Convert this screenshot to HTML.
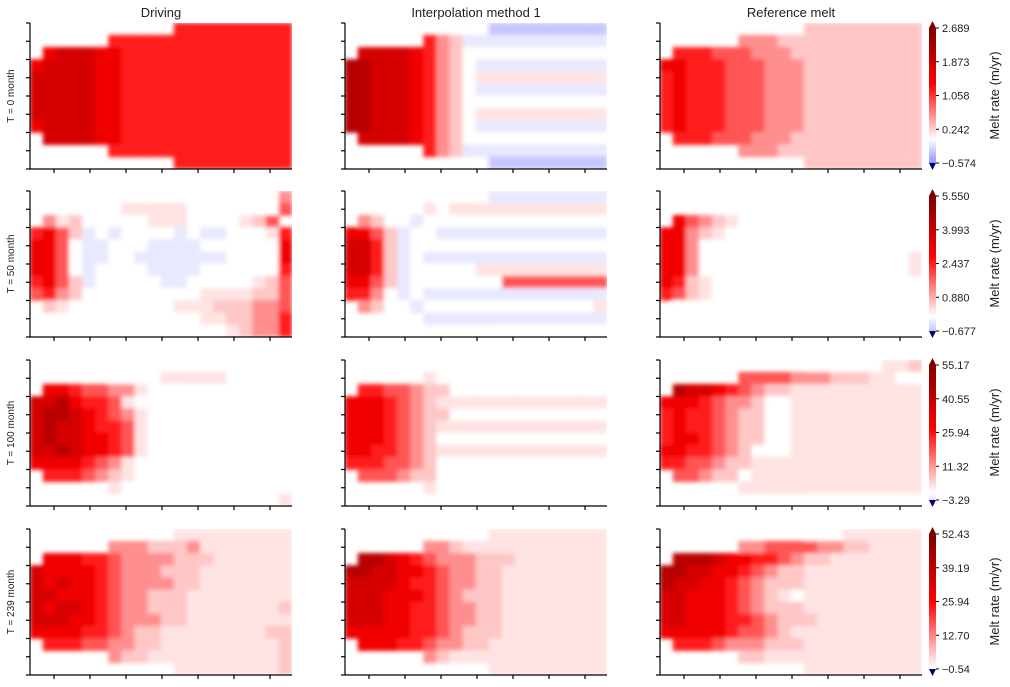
<!DOCTYPE html>
<html><head><meta charset="utf-8">
<style>
body{margin:0;background:#fff;}
svg{display:block;font-family:"Liberation Sans",sans-serif;}
</style></head>
<body>
<svg id="fig" width="1010" height="687" viewBox="0 0 1010 687" xmlns="http://www.w3.org/2000/svg">
<defs>
<filter id="sm" x="-5%" y="-5%" width="110%" height="110%"><feGaussianBlur stdDeviation="2.2"/></filter>
</defs>
</svg>
<script>
// ---- data ----
const colTitles = ["Driving","Interpolation method 1","Reference melt"];
const rowLabels = ["T = 0 month","T = 50 month","T = 100 month","T = 239 month"];
const vmaxs = [2.689, 5.55, 55.17, 52.43];
const vmins = [-0.574, -0.677, -3.29, -0.54];
const cbTicks = [
 ["\u22120.574","0.242","1.058","1.873","2.689"],
 ["\u22120.677","0.880","2.437","3.993","5.550"],
 ["\u22123.29","11.32","25.94","40.55","55.17"],
 ["\u22120.54","12.70","25.94","39.19","52.43"]
];
// cell codes: '.' no data, '0'-'9' = d/9*vmax, 'p' = 0.5/9*vmax, 'w' = -0.4/9*vmax, 'a','b','c' = -1,-2,-3 /9*vmax
const p11=["...........444444444","......44444444444444",".5666554444444444444","56666554444444444444","66666554444444444444","66666554444444444444","66666554444444444444","66666554444444444444","56666554444444444444",".6666554444444444444","......44444444444444","...........444444444"];
const p12=["...........aaaaaaaaa","......421wwwwwwwwwww",".6666542100000000000","7766654210wwwwwwwwww","7766654210pppppppppp","7766654210wwwwwwwwww","77666542100000000000","7766654210pppppppppp","7766654210wwwwwwwwww",".6666542100000000000","......421wwwwwwwwwww","...........aaaaaaaaa"];
const p13=["...........111111111","......22211111111111",".4443332221111111111","55444333222111111111","45444333222111111111","45444333222111111111","45444333222111111111","45444333222111111111","45444333222111111111",".4443332221111111111","......22211111111111","...........111111111"];
const p21=["...........000000002","......0ppppp00000003",".2p100000ppp0000p13","4531w0w0000w0ww000p4","5530ww000wwww0000005","5530ww00wwwwwww00005","5530w0000wwww0000004","4531w00000ww00000p13","3421000000000pppp113",".1p00000000ppp111223","......0000000pp11224","...........0000p1224"];
const p22=["...........wwwwwwwww","......p0pppppppppppp",".2100w00000000000000","5531w00wwwwwwwwwwwww","6641w000000000000000","6641w0wwwwwwwwwwwwww","6641w00000pppppppppp","5531w000000033333333","4420w0wwwwwwwwwwwwww",".2100w0000000000000p","......wwwwwwwwwwwwww","...........000000000"];
const p23=["...........000000000","......00000000000000",".5321p00000000000000","5521p000000000000000","55200000000000000000","5520000000000000000p","5520000000000000000p","541p0000000000000000","431p0000000000000000",".0000000000000000000","......00000000000000","...........000000000"];
const p31=["...........000000000","......0000ppppp00000",".5543322p00000000000","6675443p000000000000","67765432p00000000000","67665443p00000000000","67665543p00000000000","66765543p00000000000","5555432p000000000000",".444321p000000000000","......p0000000000000","...........00000000p"];
const p32=["...........000000000","......p0000000000000",".44332110000000000000","5554321ppppppppppppp","55543211000000000000","5554321ppppppppppppp","55543210000000000000","5544321ppppppppppppp","44433210000000000000",".3332110000000000000","......p0000000000000","...........000000000"];
const p33=["...........000000pp1","......3333222111pp00",".766543211pppppppppp","5554322100pppppppppp","4544321100pppppppppp","4544321100pppppppppp","4554321100pppppppppp","5544321000pppppppppp","4433211ppppppppppppp",".332110ppppppppppppp","......pppppppppppppp","...........000000000"];
const p41=["...........ppppppppp","......2221112ppppppp",".5554432222111pppppp","6555543222111ppppppp","6565543222211ppppppp","665554322111pppppppp","656654322111ppppppp1","666554322211pppppppp","5555443211pppppppp11",".444332211ppppppppp1","......211pppppppppp1","...........pppppppp1"];
const p42=["...........ppppppppp","......221ppppppppppp",".776543222111ppppppp","776655432211pppppppp","666654432211pppppppp","666555432111pppppppp","666554432211pppppppp","666554432211pppppppp","555554432111pppppppp",".5554432211ppppppppp","......21pppppppppppp","...........ppppppppp"];
const p43=["...........000pppppp","......2233332211pppp",".777655443211ppppppp","77665543211ppppppppp","76655432111ppppppppp","665554321p0ppppppppp","66555432111ppppppppp","665554432111pppppppp","5555543321pppppppppp",".4443222111ppppppppp","......11pppppppppppp","...........ppppppppp"];
const panels=[[p11,p12,p13],[p21,p22,p23],[p31,p32,p33],[p41,p42,p43]];

// ---- layout ----
const NS="http://www.w3.org/2000/svg";
const svg=document.getElementById('fig');
const rowTop=[23,191,360,529], PH=146, colLeft=[30,345,660], PW=262;
const NX=20, NY=12;
function mk(tag,attrs,parent){const e=document.createElementNS(NS,tag);for(const k in attrs)e.setAttribute(k,attrs[k]);(parent||svg).appendChild(e);return e;}
function lerp(a,b,t){return a+(b-a)*t;}
function seismic(t){
  t=Math.max(0,Math.min(1,t));
  const st=[[0,0,0,0.3],[0.25,0,0,1],[0.5,1,1,1],[0.75,1,0,0],[1,0.5,0,0]];
  for(let i=0;i<4;i++){if(t<=st[i+1][0]){const f=(t-st[i][0])/(st[i+1][0]-st[i][0]);
    return `rgb(${Math.round(255*lerp(st[i][1],st[i+1][1],f))},${Math.round(255*lerp(st[i][2],st[i+1][2],f))},${Math.round(255*lerp(st[i][3],st[i+1][3],f))})`;}}
  return 'rgb(128,0,0)';
}
function codeVal(c,vmax){
  if(c>='0'&&c<='9')return (+c)/9*vmax;
  if(c==='p')return 0.5/9*vmax;
  if(c==='w')return -0.4/9*vmax;
  return -("abc".indexOf(c)+1)/9*vmax;
}
function colorOf(v,vmax){return seismic(0.5+v/(2*vmax));}
function xScale(ci,i){return colLeft[ci]+i*PW/NX;}
function yScale(ri,j){return rowTop[ri]+j*PH/NY;}

colTitles.forEach((t,ci)=>{
  const e=mk('text',{x:colLeft[ci]+PW/2,y:17,'text-anchor':'middle','font-size':13,fill:'#222'});
  
  
  e.textContent=t;
});

for(let ri=0;ri<4;ri++){
  const vmax=vmaxs[ri];
  const cy=rowTop[ri]+PH/2;
  const rl=mk('text',{x:0,y:0,transform:`translate(14,${cy}) rotate(-90)`,'text-anchor':'middle','font-size':10,fill:'#222'});
  
  
  rl.textContent=rowLabels[ri];
  for(let ci=0;ci<3;ci++){
    const L=colLeft[ci],T=rowTop[ri];
    const g=mk('g',{});
    
    
    const cp=mk('clipPath',{id:`cp${ri}${ci}`},svg);
    mk('rect',{x:L,y:T,width:PW,height:PH},cp);
    const outer=mk('g',{'clip-path':`url(#cp${ri}${ci})`},g);
    const inner=mk('g',{filter:'url(#sm)'},outer);
    const data=panels[ri][ci];
    for(let j=0;j<NY;j++){
      const row=data[j];
      for(let i=0;i<NX;i++){
        const c=row[i]; if(!c||c==='.')continue;
        const v=codeVal(c,vmax);
        const x0=xScale(ci,i),x1=xScale(ci,i+1),y0=yScale(ri,j),y1=yScale(ri,j+1);
        const r=mk('rect',{x:x0-0.3,y:y0-0.3,width:x1-x0+0.6,height:y1-y0+0.6,fill:colorOf(v,vmax)},inner);
        
        
      }
    }
    const ax=mk('g',{stroke:'#000','stroke-width':1.2});
    
    
    mk('line',{x1:L,y1:T,x2:L,y2:T+PH},ax);
    mk('line',{x1:L,y1:T+PH,x2:L+PW,y2:T+PH},ax);
    for(let k=0;k<9;k++){const y=T+k*PH/8;mk('line',{x1:L-4,y1:y,x2:L,y2:y},ax);}
    for(let k=0;k<7;k++){const x=L+24+k*36;mk('line',{x1:x,y1:T+PH,x2:x,y2:T+PH+4},ax);}
  }
  const cbx=929,cbw=7,cbt=rowTop[ri]+5,cbb=rowTop[ri]+140;
  const vmin=vmins[ri];
  const cb=mk('g',{});
  
  
  const N=60;
  for(let k=0;k<N;k++){
    const v=vmin+(vmax-vmin)*(k+0.5)/N;
    const y=cbb-(k+1)*(cbb-cbt)/N;
    mk('rect',{x:cbx,y:y-0.3,width:cbw,height:(cbb-cbt)/N+0.6,fill:colorOf(v,vmax)},cb);
  }
  mk('polygon',{points:`${cbx},${cbt} ${cbx+cbw},${cbt} ${cbx+cbw/2},${cbt-7}`,fill:'rgb(128,0,0)'},cb);
  mk('polygon',{points:`${cbx},${cbb} ${cbx+cbw},${cbb} ${cbx+cbw/2},${cbb+7}`,fill:'rgb(0,0,110)'},cb);
  for(let k=0;k<5;k++){
    const y=cbb-k*(cbb-cbt)/4;
    mk('line',{x1:cbx+cbw,y1:y,x2:cbx+cbw+3,y2:y,stroke:'#000'},cb);
    const t=mk('text',{x:cbx+cbw+6,y:y+4,'font-size':11,fill:'#222'},cb);
    
    
    t.textContent=cbTicks[ri][k];
  }
  const lab=mk('text',{x:0,y:0,transform:`translate(999,${(cbt+cbb)/2}) rotate(-90)`,'text-anchor':'middle','font-size':13,fill:'#222'});
  
  
  lab.textContent='Melt rate (m/yr)';
}
</script>
</body></html>
